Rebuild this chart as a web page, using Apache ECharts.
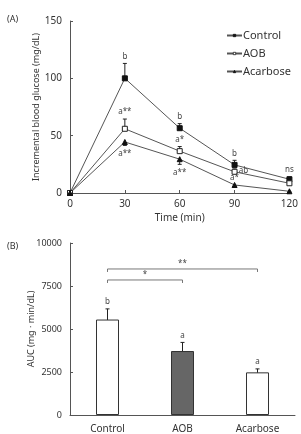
<!DOCTYPE html>
<html>
<head>
<meta charset="utf-8">
<script src="https://cdn.jsdelivr.net/npm/echarts@6/dist/echarts.min.js"></script>
<style>
  html, body { margin: 0; padding: 0; background: #fff; }
  #main { width: 301px; height: 434px; }
</style>
</head>
<body>
<div id="main"></div>
<script>
// (A) incremental blood glucose
const times = [0, 30, 60, 90, 120];
const controlMean = [0, 100, 56.5, 24.5, 12];
const controlErr = [0, 13, 4, 4, 2];
const aobMean = [0, 56, 36.5, 18.5, 8.5];
const aobErr = [0, 8.5, 4, 2.5, 1.5];
const acarboseMean = [0, 44.5, 29.5, 7, 1.5];
const acarboseErr = [0, 3, 4.5, 2, 0.5];
const controlSig = ["", "b", "b", "b", "ns"];
const aobSig = ["", "a**", "a*", "ab", ""];
const acarboseSig = ["", "a**", "a**", "a*", ""];

// (B) AUC
const groups = ["Control", "AOB", "Acarbose"];
const aucMean = [5550, 3720, 2480];
const aucErr = [620, 500, 200];
const aucSig = ["b", "a", "a"];
const compareFrom = [0, 0];
const compareTo = [1, 2];
const compareSig = ["*", "**"];

const FONT = "Noto Sans";
const INK = "#333";
const LINE = "#555";

// label placement (style only)
const controlPlace = ["top", "top", "top", "top", "top"];
const aobPlace = ["top", "top", "top", "right", "top"];
const acarbosePlace = ["top", "bottom", "bottom", "top", "top"];

const chart = echarts.init(document.getElementById("main"));

function zip(xs, ys) {
  return xs.map((x, i) => [x, ys[i]]);
}

// error bars: dir 1 = up, -1 = down, 0 = both
function errorSeries(xIdx, yIdx, xs, mean, err, dir) {
  return {
    type: "custom",
    xAxisIndex: xIdx,
    yAxisIndex: yIdx,
    silent: true,
    z: 1,
    data: xs.map((x, i) => [x, mean[i], err[i]]),
    renderItem(params, api) {
      const x = api.value(0), m = api.value(1), e = api.value(2);
      if (!e) return null;
      const hi = dir >= 0 ? m + e : m;
      const lo = dir <= 0 ? m - e : m;
      const p1 = api.coord([x, hi]);
      const p2 = api.coord([x, lo]);
      const st = { stroke: "#222", lineWidth: 1 };
      const kids = [
        { type: "line", shape: { x1: p1[0], y1: p1[1], x2: p2[0], y2: p2[1] }, style: st },
      ];
      if (dir >= 0) kids.push({ type: "line", shape: { x1: p1[0] - 2, y1: p1[1], x2: p1[0] + 2, y2: p1[1] }, style: st });
      if (dir <= 0) kids.push({ type: "line", shape: { x1: p2[0] - 2, y1: p2[1], x2: p2[0] + 2, y2: p2[1] }, style: st });
      return { type: "group", children: kids };
    },
  };
}

// significance letters placed round the error bar ends
function sigSeries(xIdx, yIdx, xs, mean, err, sig, place, up) {
  return {
    type: "custom",
    xAxisIndex: xIdx,
    yAxisIndex: yIdx,
    silent: true,
    z: 5,
    data: xs.map((x, i) => [x, mean[i], err[i], i]),
    renderItem(params, api) {
      const i = api.value(3);
      const t = sig[i];
      if (!t) return null;
      const x = api.value(0), m = api.value(1), e = api.value(2);
      const pos = place[i];
      let p, dx = 0, dy = 0;
      if (pos === "top") { p = api.coord([x, up ? m + e : m]); dy = -7; }
      else if (pos === "bottom") { p = api.coord([x, m - e]); dy = 8; }
      else { p = api.coord([x, m]); dx = 9; dy = -1; }
      return {
        type: "text",
        x: p[0] + dx,
        y: p[1] + dy,
        style: { text: t, fill: "#444", font: "8px " + FONT, align: "center", verticalAlign: "middle" },
      };
    },
  };
}

const lineCommon = {
  type: "line",
  xAxisIndex: 0,
  yAxisIndex: 0,
  symbolSize: 5,
  z: 3,
  lineStyle: { color: LINE, width: 1 },
};

chart.setOption({
  animation: false,
  textStyle: { fontFamily: FONT },
  title: [
    { text: "(A)", left: 2, top: 10, textStyle: { fontSize: 9, fontWeight: "normal", color: INK, fontFamily: FONT } },
    { text: "(B)", left: 2, top: 237, textStyle: { fontSize: 9, fontWeight: "normal", color: INK, fontFamily: FONT } },
  ],
  legend: {
    data: ["Control", "AOB", "Acarbose"],
    orient: "vertical",
    left: 221,
    top: 25,
    itemWidth: 15,
    itemHeight: 3,
    itemGap: 7,
    itemStyle: { borderWidth: 0.8 },
    textStyle: { fontSize: 11, color: INK, fontFamily: FONT, padding: [0, 0, 0, -4] },
  },
  grid: [
    { left: 70, top: 21, width: 225, height: 172 },
    { left: 70, top: 243, width: 225, height: 172 },
  ],
  xAxis: [
    {
      gridIndex: 0,
      type: "value",
      min: 0,
      max: 120,
      interval: 30,
      name: "Time (min)",
      nameLocation: "middle",
      nameGap: 20,
      nameMoveOverlap: false,
      nameTextStyle: { fontSize: 10, color: INK },
      axisLine: { lineStyle: { color: LINE } },
      axisTick: { inside: true, length: 3, lineStyle: { color: LINE } },
      axisLabel: { fontSize: 10, color: INK, margin: 6 },
      splitLine: { show: false },
    },
    {
      gridIndex: 1,
      type: "category",
      data: groups,
      axisLine: { lineStyle: { color: LINE } },
      axisTick: { show: false },
      axisLabel: { fontSize: 10, color: INK, margin: 9 },
    },
  ],
  yAxis: [
    {
      gridIndex: 0,
      type: "value",
      min: 0,
      max: 150,
      interval: 50,
      name: "Incremental blood glucose (mg/dL)",
      nameLocation: "middle",
      nameGap: 29,
      nameMoveOverlap: false,
      nameTextStyle: { fontSize: 9, color: INK },
      axisLine: { show: true, lineStyle: { color: LINE } },
      axisTick: { show: true, inside: true, length: 3, lineStyle: { color: LINE } },
      axisLabel: { fontSize: 10, color: INK, margin: 8 },
      splitLine: { show: false },
    },
    {
      gridIndex: 1,
      type: "value",
      min: 0,
      max: 10000,
      interval: 2500,
      name: "AUC (mg · min/dL)",
      nameLocation: "middle",
      nameGap: 34,
      nameMoveOverlap: false,
      nameTextStyle: { fontSize: 9, color: INK },
      axisLine: { show: true, lineStyle: { color: LINE } },
      axisTick: { show: true, inside: true, length: 3, lineStyle: { color: LINE } },
      axisLabel: { fontSize: 9, color: INK, margin: 8, formatter: (v) => String(v) },
      splitLine: { show: false },
    },
  ],
  series: [
    Object.assign({}, lineCommon, {
      name: "Control",
      symbol: "rect",
      itemStyle: { color: "#111", borderColor: "#111", borderWidth: 1 },
      data: zip(times, controlMean),
    }),
    Object.assign({}, lineCommon, {
      name: "AOB",
      symbol: "rect",
      itemStyle: { color: "#fff", borderColor: "#222", borderWidth: 1 },
      data: zip(times, aobMean),
    }),
    Object.assign({}, lineCommon, {
      name: "Acarbose",
      symbol: "triangle",
      itemStyle: { color: "#111", borderColor: "#111", borderWidth: 1 },
      data: zip(times, acarboseMean),
    }),
    errorSeries(0, 0, times, controlMean, controlErr, 1),
    errorSeries(0, 0, times, aobMean, aobErr, 1),
    errorSeries(0, 0, times, acarboseMean, acarboseErr, -1),
    sigSeries(0, 0, times, controlMean, controlErr, controlSig, controlPlace, true),
    sigSeries(0, 0, times, aobMean, aobErr, aobSig, aobPlace, true),
    sigSeries(0, 0, times, acarboseMean, acarboseErr, acarboseSig, acarbosePlace, false),
    {
      type: "bar",
      xAxisIndex: 1,
      yAxisIndex: 1,
      barWidth: 23,
      z: 2,
      data: aucMean.map((v, i) => ({
        value: v,
        itemStyle: { color: i === 1 ? "#666" : "#fff", borderColor: "#333", borderWidth: 1 },
      })),
    },
    errorSeries(1, 1, [0, 1, 2], aucMean, aucErr, 0),
    sigSeries(1, 1, [0, 1, 2], aucMean, aucErr, aucSig, ["top", "top", "top"], true),
    {
      // comparison brackets
      type: "custom",
      xAxisIndex: 1,
      yAxisIndex: 1,
      silent: true,
      data: compareFrom.map((f, i) => [f, compareTo[i], i]),
      renderItem(params, api) {
        const f = api.value(0), t = api.value(1), k = api.value(2);
        const yVal = 7850 + k * 640;
        const a = api.coord([f, yVal]);
        const b = api.coord([t, yVal]);
        const st = { stroke: "#777", lineWidth: 1, fill: null };
        return {
          type: "group",
          children: [
            {
              type: "polyline",
              shape: { points: [[a[0], a[1] + 3], [a[0], a[1]], [b[0], b[1]], [b[0], b[1] + 3]] },
              style: st,
            },
            {
              type: "text",
              x: (a[0] + b[0]) / 2,
              y: a[1] - 5,
              style: { text: compareSig[k], fill: "#444", font: "8px " + FONT, align: "center", verticalAlign: "middle" },
            },
          ],
        };
      },
    },
  ],
});
</script>
</body>
</html>
